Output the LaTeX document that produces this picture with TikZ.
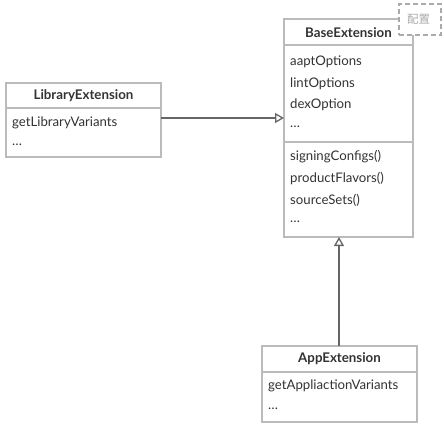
\documentclass[tikz,border=0pt]{standalone}
\usepackage{fontspec}
\setmainfont{Lato}
\newfontfamily\cjk{Noto Sans CJK SC}
\usetikzlibrary{arrows.meta}
\definecolor{boxline}{HTML}{BBBBBB}
\definecolor{txt}{HTML}{333333}
\definecolor{arr}{HTML}{666666}
\definecolor{note}{HTML}{AAAAAA}
\tikzset{
  umlbox/.style={draw=boxline, line width=1.4pt, fill=white, inner sep=0, outer sep=0},
  hdr/.style={text=txt, font=\fontsize{13.3}{15}\selectfont\bfseries, inner sep=0},
  item/.style={text=txt, font=\fontsize{13.2}{15}\selectfont, anchor=west, inner sep=0},
  sep/.style={draw=boxline, line width=1.4pt},
  inherit/.style={draw=arr, line width=1.8pt, -{Triangle[open, length=9pt, width=10pt, line width=1.3pt]}},
  notebox/.style={draw=note, line width=1.6pt, dash pattern=on 5pt off 3pt, inner sep=0},
}
\begin{document}
\begin{tikzpicture}[x=1pt,y=-1pt]
\useasboundingbox (0,0) rectangle (444,429);
% BaseExtension
\node[umlbox, minimum width=129pt, minimum height=218pt, anchor=north west] (base) at (284,19) {};
\draw[sep] (284,45) -- (413,45);
\draw[sep] (284,142) -- (413,142);
\node[hdr] (basetitle) at (348.5,33) {BaseExtension};
\node[item] (b1) at (290,62) {aaptOptions};
\node[item] (b2) at (290,84) {lintOptions};
\node[item] (b3) at (290,105) {dexOption};
\node[item] (b4) at (290,127) {\dots};
\node[item] (b5) at (290,157) {signingConfigs()};
\node[item] (b6) at (290,179) {productFlavors()};
\node[item] (b7) at (290,200) {sourceSets()};
\node[item] (b8) at (290,222) {\dots};
% note
\node[notebox, minimum width=42pt, minimum height=31pt, anchor=north west, fill=white] (note) at (398,3) {};
\node[text=note, font=\cjk\fontsize{11.5}{13}\selectfont, inner sep=0] (notetext) at (418.5,19) {配置};
% LibraryExtension
\node[umlbox, minimum width=155pt, minimum height=74pt, anchor=north west] (lib) at (6,83) {};
\draw[sep] (6,108) -- (161,108);
\node[hdr] (libtitle) at (83.5,95.5) {LibraryExtension};
\node[item] (l1) at (12,123) {getLibraryVariants};
\node[item] (l2) at (12,145) {\dots};
% AppExtension
\node[umlbox, minimum width=155pt, minimum height=76pt, anchor=north west] (app) at (262,346) {};
\draw[sep] (262,372) -- (417,372);
\node[hdr] (apptitle) at (339.5,359) {AppExtension};
\node[item] (a1) at (268,386) {getAppliactionVariants};
\node[item] (a2) at (268,409) {\dots};
% connectors
\coordinate (libout) at (lib.east |- 0,118);
\coordinate (basein) at (base.west |- 0,118);
\draw[inherit] (libout) -- (basein);
\coordinate (appout) at (app.north -| 339,0);
\coordinate (basebot) at (base.south -| 339,0);
\draw[inherit] (appout) -- (basebot);
\end{tikzpicture}
\end{document}
